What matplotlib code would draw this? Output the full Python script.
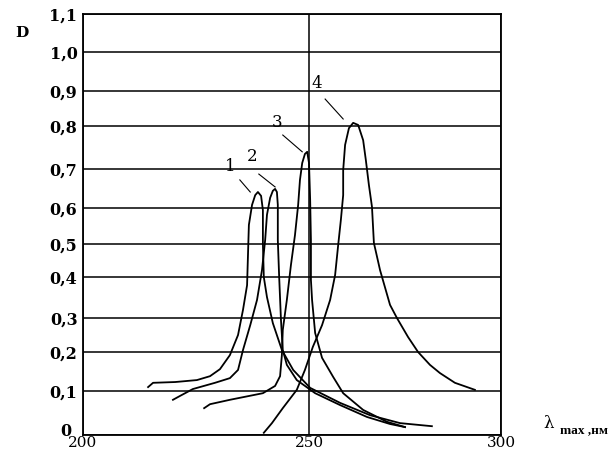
import numpy as np
import matplotlib
matplotlib.use('Agg')
import matplotlib.pyplot as plt
import matplotlib.transforms as mtransforms

# spectra, lambda (nm) and optical density D
lam1 = [214.4, 215.5, 220.4, 225.2, 228.1, 230.3, 232.5, 234.3, 235.4, 236.3, 236.5, 236.7, 237.4, 238.1,
        238.7, 239.4, 239.8, 239.8, 240.0, 240.7, 242.0, 244.0, 246.5, 250.3, 258.1, 265.9, 273.7, 282.0]
d1 = [0.110, 0.121, 0.123, 0.128, 0.138, 0.156, 0.192, 0.250, 0.320, 0.380, 0.467, 0.553, 0.608, 0.633,
      0.641, 0.631, 0.594, 0.503, 0.400, 0.351, 0.285, 0.206, 0.154, 0.108, 0.073, 0.045, 0.027, 0.020]

lam2 = [219.9, 221.5, 224.3, 229.2, 232.5, 234.3, 235.4, 237.0, 238.5, 239.6, 240.3, 240.7, 241.4, 242.0,
        242.5, 242.9, 243.1, 243.1, 243.4, 243.8, 244.2, 245.1, 247.3, 251.6, 258.1, 265.1, 271.1, 275.0]
d2 = [0.080, 0.089, 0.105, 0.121, 0.133, 0.154, 0.206, 0.279, 0.344, 0.421, 0.511, 0.581, 0.626, 0.644,
      0.649, 0.641, 0.608, 0.511, 0.400, 0.294, 0.206, 0.167, 0.128, 0.095, 0.068, 0.041, 0.025, 0.018]

lam3 = [226.8, 228.1, 232.5, 239.8, 242.5, 243.6, 244.0, 244.2, 245.1, 246.0, 246.9, 247.6, 248.0, 248.5,
        249.1, 249.6, 250.0, 250.3, 250.5, 250.5, 250.8, 251.6, 253.4, 256.3, 258.9, 264.1, 270.3, 275.0]
d3 = [0.061, 0.070, 0.080, 0.095, 0.113, 0.138, 0.192, 0.265, 0.344, 0.436, 0.525, 0.608, 0.672, 0.714,
      0.735, 0.740, 0.714, 0.621, 0.511, 0.393, 0.344, 0.256, 0.185, 0.136, 0.095, 0.057, 0.030, 0.018]

lam4 = [240.0, 241.8, 244.2, 247.3, 249.1, 251.0, 253.4, 255.5, 256.8, 257.6, 258.3, 258.9, 258.9, 259.4,
        260.4, 261.5, 262.8, 264.1, 264.8, 265.6, 266.4, 266.9, 268.5, 271.1, 272.9, 275.8, 278.4, 281.5,
        284.1, 288.0, 293.2]
d4 = [0.005, 0.027, 0.061, 0.103, 0.154, 0.215, 0.279, 0.344, 0.406, 0.497, 0.567, 0.633, 0.697, 0.756,
      0.795, 0.809, 0.803, 0.767, 0.721, 0.659, 0.603, 0.503, 0.421, 0.332, 0.300, 0.244, 0.200, 0.167,
      0.146, 0.121, 0.103]

curve_names = ['1', '2', '3', '4']
# label text position, start and end of leader line
label_pos = [(232.5, 0.705), (237.4, 0.728), (242.9, 0.811), (252.1, 0.918)]
leader_start = [(234.7, 0.672), (238.9, 0.687), (244.2, 0.779), (254.2, 0.877)]
leader_end = [(237.0, 0.641), (242.5, 0.654), (248.5, 0.740), (258.9, 0.820)]

y_ticks = [0, 0.1, 0.2, 0.3, 0.4, 0.5, 0.6, 0.7, 0.8, 0.9, 1.0, 1.1]
y_labels = ['0', '0,1', '0,2', '0,3', '0,4', '0,5', '0,6', '0,7', '0,8', '0,9', '1,0', '1,1']
x_ticks = [200, 250, 300]
x_labels = ['200', '250', '300']

# the hand drawn grid is not evenly spaced: calibrate axis to the drawn lines
y_cal = np.array([435, 391, 352, 318, 277, 244, 208, 169, 126, 91, 52, 14], dtype=float)
x_cal = np.array([83, 309, 501], dtype=float)
y_fwd = lambda v: np.interp(v, y_ticks, 455 - y_cal)
y_inv = lambda v: np.interp(v, 455 - y_cal, y_ticks)
x_fwd = lambda v: np.interp(v, x_ticks, x_cal)
x_inv = lambda v: np.interp(v, x_cal, x_ticks)

serif = 'DejaVu Serif'

fig = plt.figure(figsize=(6.10, 4.55), dpi=100)
ax = fig.add_axes([83 / 610, 1 - 435 / 455, (501 - 83) / 610, (435 - 14) / 455])
ax.set_xscale('function', functions=(x_fwd, x_inv))
ax.set_yscale('function', functions=(y_fwd, y_inv))
ax.set_xlim(200, 300)
ax.set_ylim(0, 1.1)

ax.set_yticks(y_ticks)
ax.set_yticklabels(y_labels, fontfamily=serif, fontweight='bold', fontsize=11.5)
ax.set_xticks(x_ticks)
ax.set_xticklabels(x_labels, fontfamily=serif, fontsize=11)
ax.yaxis.set_minor_locator(matplotlib.ticker.NullLocator())
ax.xaxis.set_minor_locator(matplotlib.ticker.NullLocator())
ax.tick_params(axis='y', length=0, pad=4)
ax.tick_params(axis='x', length=0, pad=1)
ax.grid(True, color='black', lw=1.1)
for s in ax.spines.values():
    s.set_linewidth(1.3)

# the "0" sits a little higher and further left than the others
zero_lbl = ax.get_yticklabels()[0]
zero_lbl.set_transform(zero_lbl.get_transform() +
                       mtransforms.ScaledTranslation(-6 / 100, 5 / 100, fig.dpi_scale_trans))

for lam, d in [(lam1, d1), (lam2, d2), (lam3, d3), (lam4, d4)]:
    ax.plot(lam, d, color='black', lw=1.3, solid_joinstyle='round')

for name, p, a, b in zip(curve_names, label_pos, leader_start, leader_end):
    ax.text(p[0], p[1], name, fontfamily=serif, fontsize=12, ha='center', va='center')
    ax.plot([a[0], b[0]], [a[1], b[1]], color='black', lw=0.8)

fig.text(22 / 610, 1 - 33 / 455, 'D', fontfamily=serif, fontweight='bold', fontsize=11, ha='center', va='center')
fig.text(549 / 610, 1 - 423 / 455, 'λ', fontfamily=serif, fontsize=12, ha='center', va='center')
fig.text(560 / 610, 1 - 430 / 455, 'max ,нм', fontfamily='Liberation Serif', fontweight='bold', fontsize=9.5,
         ha='left', va='center')

fig.savefig('out.png', dpi=100)
